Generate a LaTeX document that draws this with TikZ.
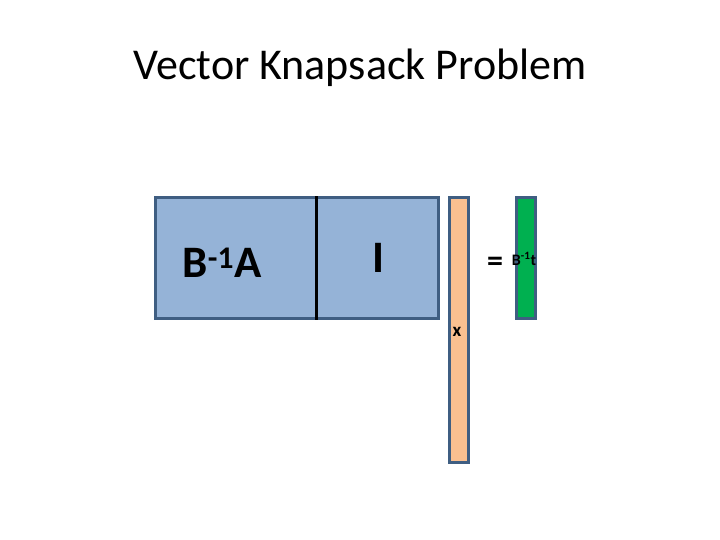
\documentclass[tikz,border=0pt]{standalone}
\usepackage{fontspec}
\setmainfont{Carlito}
\usetikzlibrary{positioning}

\begin{document}
\begin{tikzpicture}[x=1pt,y=-1pt]
\definecolor{matblue}{HTML}{95B3D7}
\definecolor{edgeblue}{HTML}{3F5E82}
\definecolor{vecorange}{HTML}{FAC090}
\definecolor{vecgreen}{HTML}{00B050}
\tikzset{
  blockbox/.style={draw=edgeblue,line width=3pt,inner sep=0pt},
  bigtext/.style={font=\fontsize{45}{45}\selectfont\bfseries,inner sep=0pt},
  smalltext/.style={font=\fontsize{16}{16}\selectfont\bfseries,inner sep=0pt}
}
\useasboundingbox (0,0) rectangle (720,540);

% title
\node[font=\fontsize{44}{44}\selectfont] (title) at (360,68) {Vector Knapsack Problem};

% the matrix [B^-1 A | I]
\node[blockbox,fill=matblue,minimum width=283pt,minimum height=120pt] (mat) at (296.5,258) {};
\draw[black,line width=3pt] ([xshift=163pt]mat.north west) -- ([xshift=163pt]mat.south west);
\node[bigtext] (lefttxt) at (222,263) {B\textsuperscript{-1}A};
\node[bigtext] (righttxt) at (378,258) {I};

% the vectors
\node[blockbox,fill=vecorange,minimum width=19pt,minimum height=264pt] (xvec) at (458.5,330) {};
\node[smalltext,font=\fontsize{19}{19}\selectfont\bfseries] (xtxt) at (457,332) {x};
\node[font=\fontsize{32}{32}\selectfont\bfseries,inner sep=0pt] (eq) at (495,264) {=};
\node[blockbox,fill=vecgreen,minimum width=19pt,minimum height=120pt] (tvec) at (525.5,258) {};
\node[smalltext] (ttxt) at (524,259) {B\textsuperscript{-1}t};
\end{tikzpicture}
\end{document}
